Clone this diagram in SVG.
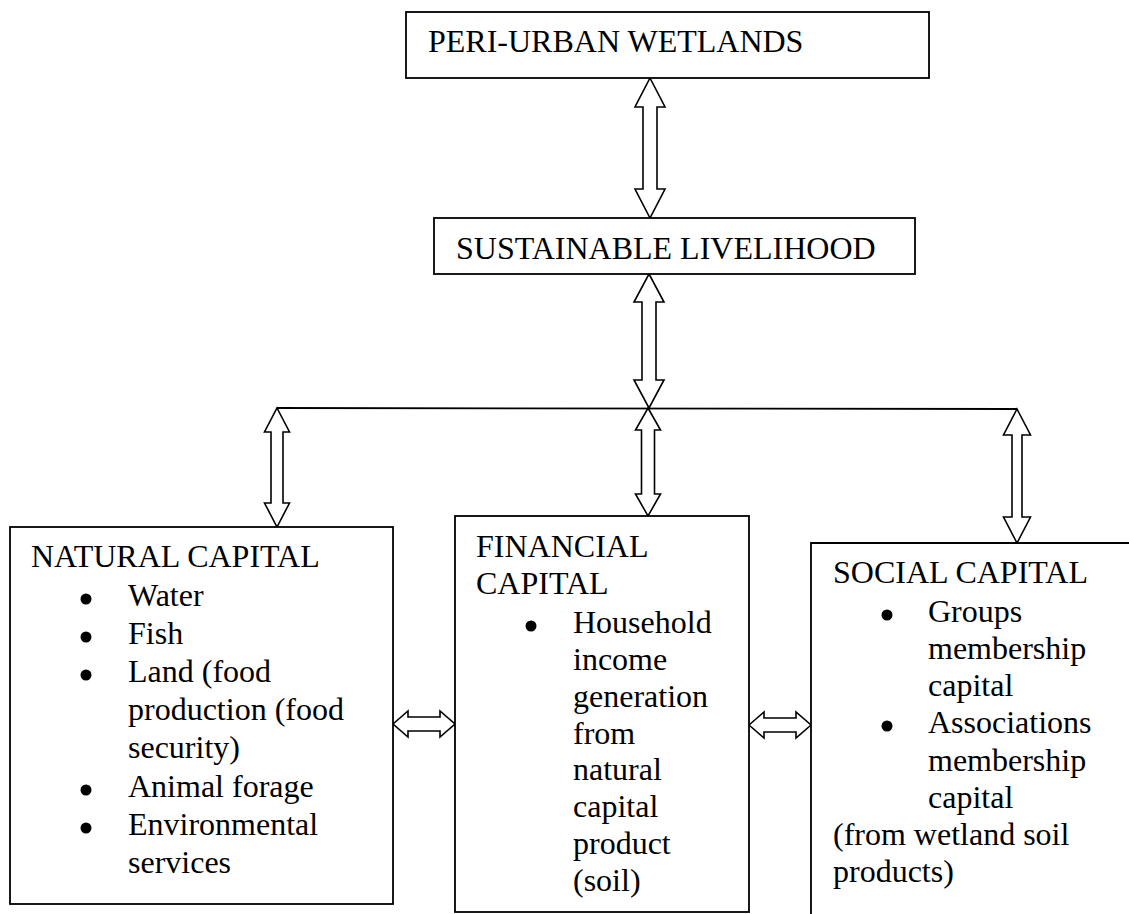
<svg xmlns="http://www.w3.org/2000/svg" width="1129" height="914" viewBox="0 0 1129 914">
<style>
  .box { fill: #ffffff; stroke: #000000; stroke-width: 1.8; }
  .arr { fill: #ffffff; stroke: #000000; stroke-width: 1.6; stroke-linejoin: miter; }
  .ln { fill: none; stroke: #000000; stroke-width: 1.8; }
  text { font-family: "Liberation Serif", "Times New Roman", serif; font-size: 32px; fill: #000000; }
  .dot { fill: #000000; }
</style>
<rect width="1129" height="914" fill="#ffffff"/>

<g id="connectors">
  <line class="ln" x1="277" y1="408" x2="1017" y2="409"/>
  <polygon class="arr" points="650,78 665,107 657,107 657,189 665,189 650,218 635,189 643,189 643,107 635,107"/>
  <polygon class="arr" points="649,274 664,302 656,302 656,380 664,380 649,408 634,380 642,380 642,302 634,302"/>
  <polygon class="arr" points="277,408 289.5,432 283,432 283,503 289.5,503 277,527 264.5,503 271,503 271,432 264.5,432"/>
  <polygon class="arr" points="648,408 660.5,430 654.5,430 654.5,494 660.5,494 648,516 635.5,494 641.5,494 641.5,430 635.5,430"/>
  <polygon class="arr" points="1017,409 1030.5,435 1022,435 1022,517 1030.5,517 1017,543 1003.5,517 1012,517 1012,435 1003.5,435"/>
  <polygon class="arr" points="393,724 408,711 408,717 440,717 440,711 455,724 440,737 440,731 408,731 408,737"/>
  <polygon class="arr" points="749,725 764,712 764,718 796,718 796,712 811,725 796,738 796,732 764,732 764,738"/>
</g>

<g id="peri-urban-wetlands">
  <rect class="box" x="406" y="12" width="523" height="66"/>
  <text x="428" y="52">PERI-URBAN WETLANDS</text>
</g>

<g id="sustainable-livelihood">
  <rect class="box" x="434" y="218" width="481" height="56"/>
  <text x="456" y="259">SUSTAINABLE LIVELIHOOD</text>
</g>

<g id="natural-capital">
  <rect class="box" x="10" y="527" width="383" height="377"/>
  <text x="31" y="567">NATURAL CAPITAL</text>
  <circle class="dot" cx="86" cy="599" r="5.5"/>
  <text x="128" y="606">Water</text>
  <circle class="dot" cx="86" cy="637" r="5.5"/>
  <text x="128" y="644">Fish</text>
  <circle class="dot" cx="86" cy="675" r="5.5"/>
  <text x="128" y="682">Land (food</text>
  <text x="128" y="720">production (food</text>
  <text x="128" y="758">security)</text>
  <circle class="dot" cx="86" cy="790" r="5.5"/>
  <text x="128" y="797">Animal forage</text>
  <circle class="dot" cx="86" cy="828" r="5.5"/>
  <text x="128" y="835">Environmental</text>
  <text x="128" y="873">services</text>
</g>

<g id="financial-capital">
  <rect class="box" x="455" y="516" width="294" height="396"/>
  <text x="476" y="557">FINANCIAL</text>
  <text x="476" y="594">CAPITAL</text>
  <circle class="dot" cx="531" cy="626" r="5.5"/>
  <text x="573" y="633">Household</text>
  <text x="573" y="670">income</text>
  <text x="573" y="707">generation</text>
  <text x="573" y="744">from</text>
  <text x="573" y="780">natural</text>
  <text x="573" y="817">capital</text>
  <text x="573" y="854">product</text>
  <text x="573" y="891">(soil)</text>
</g>

<g id="social-capital">
  <path class="box" d="M811,916 V543 H1131" fill="none"/>
  <text x="833" y="583">SOCIAL CAPITAL</text>
  <circle class="dot" cx="887" cy="615" r="5.5"/>
  <text x="928" y="622">Groups</text>
  <text x="928" y="659">membership</text>
  <text x="928" y="696">capital</text>
  <circle class="dot" cx="887" cy="726" r="5.5"/>
  <text x="928" y="733">Associations</text>
  <text x="928" y="771">membership</text>
  <text x="928" y="808">capital</text>
  <text x="833" y="845">(from wetland soil</text>
  <text x="833" y="882">products)</text>
</g>
</svg>
